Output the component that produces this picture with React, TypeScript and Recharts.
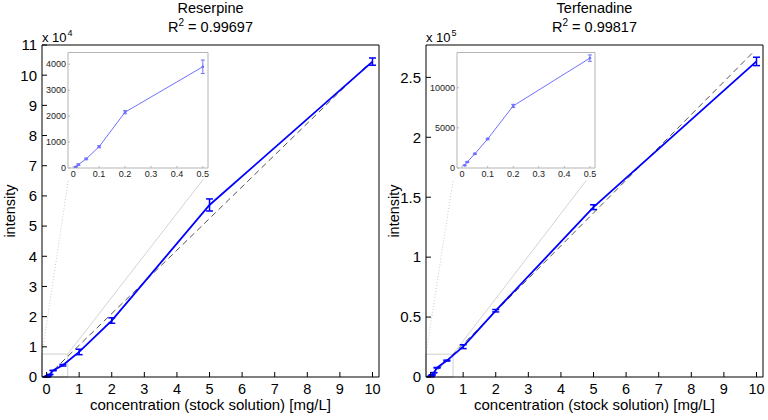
import React from 'react';
import { LineChart, Line, XAxis, YAxis, ErrorBar, ReferenceArea, ReferenceLine } from 'recharts';

// concentrations of the stock solution [mg/L]
const concentration = [0.01, 0.02, 0.05, 0.1, 0.2, 0.5, 1, 2, 5, 10];

// Reserpine
const reserpineIntensity = [40, 130, 350, 820, 2150, 3900, 8300, 18700, 57000, 104500];
const reserpineError = [20, 30, 30, 40, 60, 260, 900, 900, 2000, 1200];
const reserpineFitX = [0, 9.9];
const reserpineFitY = [0, 104000];

// Terfenadine
const terfenadineIntensity = [330, 740, 1770, 3620, 7740, 13700, 25300, 55300, 141700, 263300];
const terfenadineError = [40, 60, 80, 100, 200, 400, 1600, 1000, 2000, 3500];
const terfenadineFitX = [0, 9.9];
const terfenadineFitY = [0, 271000];

// ticks
const xTicks = [0, 1, 2, 3, 4, 5, 6, 7, 8, 9, 10];
const reserpineTicks = [0, 10000, 20000, 30000, 40000, 50000, 60000, 70000, 80000, 90000, 100000, 110000];
const terfenadineTicks = [0, 50000, 100000, 150000, 200000, 250000];
const insetXTicks = [0, 0.1, 0.2, 0.3, 0.4, 0.5];
const reserpineInsetTicks = [0, 1000, 2000, 3000, 4000];
const terfenadineInsetTicks = [0, 5000, 10000];

// zoom box and connector lines (data coords of each main panel)
const reserpineBox = [0.65, 7600];
const reserpineConnectors = [
  [-0.14, 7600, 0.67, 65400],
  [0.65, 7600, 4.8, 65400],
];
const terfenadineBox = [0.69, 19000];
const terfenadineConnectors = [
  [-0.14, 19000, 0.69, 164000],
  [0.69, 19000, 4.78, 164000],
];

const X_DOMAIN: [number, number] = [-0.14, 10.2];
const INSET_X_DOMAIN: [number, number] = [-0.02, 0.52];
const FONT = '"Liberation Sans", Arial, Helvetica, sans-serif';
const BLUE = '#0000ff';
const INSET_BLUE = '#7070ff';

const toPoints = (ys: number[], errs: number[]) =>
  concentration.map((x, i) => ({ x, y: ys[i], err: errs[i] }));
const toFit = (xs: number[], ys: number[]) => xs.map((x, i) => ({ x, y: ys[i] }));

const fmt = (scale: number) => (v: number) => String(+(v / scale).toFixed(2));

interface PanelProps {
  left: number;
  title: string;
  r2: string;
  exponent: number;
  scale: number;
  yMax: number;
  yTicks: number[];
  data: { x: number; y: number; err: number }[];
  fit: { x: number; y: number }[];
  box: number[];
  connectors: number[][];
  inset: { left: number; width: number; yWidth: number; yMax: number; ticks: number[] };
}

const Panel: React.FC<PanelProps> = ({ left, title, r2, exponent, scale, yMax, yTicks, data, fit, box, connectors, inset }) => {
  const insetData = data.filter(d => d.x <= 0.5);
  const txt: React.CSSProperties = { position: 'absolute', fontFamily: FONT, color: '#000', whiteSpace: 'nowrap' };
  return (
    <>
      <div style={{ position: 'absolute', left, top: 0 }}>
        <LineChart width={384} height={420} margin={{ top: 44, right: 4, bottom: 0, left: 0 }}>
          <XAxis type="number" dataKey="x" domain={X_DOMAIN} ticks={xTicks} allowDataOverflow interval={0}
            height={43} tickSize={-5} tickMargin={12} stroke="#000"
            tick={{ fill: '#000', fontSize: 14.5, fontFamily: FONT }} />
          {/* top / right axes close the box, ticks only */}
          <XAxis xAxisId="top" orientation="top" type="number" dataKey="x" domain={X_DOMAIN} ticks={xTicks}
            allowDataOverflow interval={0} height={1} tickSize={-5} tick={false} stroke="#000" />
          <YAxis type="number" domain={[0, yMax]} ticks={yTicks} allowDataOverflow interval={0}
            width={42} tickSize={-5} tickMargin={10} stroke="#000" tickFormatter={fmt(scale)}
            tick={{ fill: '#000', fontSize: 15, fontFamily: FONT }} />
          <YAxis yAxisId="right" orientation="right" type="number" domain={[0, yMax]} ticks={yTicks}
            allowDataOverflow interval={0} width={1} tickSize={-5} tick={false} stroke="#000" />
          <ReferenceArea x1={X_DOMAIN[0]} x2={box[0]} y1={0} y2={box[1]} fill="none" stroke="#c4c4c4"
            strokeWidth={0.8} ifOverflow="visible" />
          <ReferenceLine segment={[{ x: connectors[0][0], y: connectors[0][1] }, { x: connectors[0][2], y: connectors[0][3] }]}
            stroke="#bdbdbd" strokeWidth={0.8} strokeDasharray="1 2" ifOverflow="visible" />
          <ReferenceLine segment={[{ x: connectors[1][0], y: connectors[1][1] }, { x: connectors[1][2], y: connectors[1][3] }]}
            stroke="#c8c8c8" strokeWidth={0.8} ifOverflow="visible" />
          <Line xAxisId="top" yAxisId="right" data={fit} dataKey="y" stroke="none" dot={false}
            isAnimationActive={false} />
          <Line data={fit} dataKey="y" stroke="#555" strokeWidth={1} strokeDasharray="6 4" dot={false}
            isAnimationActive={false} />
          <Line data={data} dataKey="y" stroke={BLUE} strokeWidth={1.8} dot={false} isAnimationActive={false}>
            <ErrorBar dataKey="err" direction="y" width={3.5} stroke={BLUE} strokeWidth={1.5} isAnimationActive={false} />
          </Line>
        </LineChart>
      </div>

      {/* inset */}
      <div style={{ position: 'absolute', left: inset.left, top: 48 }}>
        <LineChart width={inset.width} height={135} margin={{ top: 3.5, right: 5, bottom: 0, left: 0 }}>
          <XAxis type="number" dataKey="x" domain={INSET_X_DOMAIN} ticks={insetXTicks} allowDataOverflow interval={0}
            height={15} tickSize={-2} tickMargin={5} stroke="#b4b4b4"
            tick={{ fill: '#222', fontSize: 9, fontFamily: FONT }} />
          <XAxis xAxisId="top" orientation="top" type="number" dataKey="x" domain={INSET_X_DOMAIN} ticks={insetXTicks}
            allowDataOverflow interval={0} height={1} tickSize={-2} tick={false} stroke="#b4b4b4" />
          <YAxis type="number" domain={[0, inset.yMax]} ticks={inset.ticks} allowDataOverflow interval={0}
            width={inset.yWidth} tickSize={-2} tickMargin={4} stroke="#b4b4b4"
            tick={{ fill: '#222', fontSize: 9, fontFamily: FONT }} />
          <YAxis yAxisId="right" orientation="right" type="number" domain={[0, inset.yMax]} ticks={inset.ticks}
            allowDataOverflow interval={0} width={1} tickSize={-2} tick={false} stroke="#b4b4b4" />
          <Line xAxisId="top" yAxisId="right" data={insetData} dataKey="y" stroke="none" dot={false}
            isAnimationActive={false} />
          <Line data={insetData} dataKey="y" stroke={INSET_BLUE} strokeWidth={1}
            dot={{ r: 1, fill: INSET_BLUE, stroke: INSET_BLUE }} isAnimationActive={false}>
            <ErrorBar dataKey="err" direction="y" width={2} stroke={INSET_BLUE} strokeWidth={1} isAnimationActive={false} />
          </Line>
        </LineChart>
      </div>

      {/* texts */}
      <div style={{ ...txt, left: left + 42, width: 337, top: 0, textAlign: 'center', fontSize: 14.5, lineHeight: '16px' }}>{title}</div>
      <div style={{ ...txt, left: left + 42, width: 337, top: 19, textAlign: 'center', fontSize: 14.5, lineHeight: '16px' }}>
        R<span style={{ fontSize: 10, position: 'relative', top: -6 }}>2</span> = {r2}
      </div>
      <div style={{ ...txt, left: left + 42, top: 30, fontSize: 13, lineHeight: '15px' }}>
        x 10<span style={{ fontSize: 9, position: 'relative', top: -6, marginLeft: 1 }}>{exponent}</span>
      </div>
      <div style={{ ...txt, left: left + 10, top: 211, fontSize: 14.5, lineHeight: '16px', transform: 'translate(-50%, -50%) rotate(-90deg)' }}>intensity</div>
      <div style={{ ...txt, left: left + 42, width: 337, top: 398, textAlign: 'center', fontSize: 15, lineHeight: '14px' }}>
        concentration (stock solution) [mg/L]
      </div>
    </>
  );
};

export default function App() {
  return (
    <div style={{ position: 'absolute', left: 0, top: 0, width: 768, height: 420, background: '#fff', overflow: 'hidden' }}>
      <Panel left={0} title="Reserpine" r2="0.99697" exponent={4} scale={10000} yMax={110000}
        yTicks={reserpineTicks} data={toPoints(reserpineIntensity, reserpineError)}
        fit={toFit(reserpineFitX, reserpineFitY)} box={reserpineBox} connectors={reserpineConnectors}
        inset={{ left: 36, width: 178, yWidth: 32, yMax: 4450, ticks: reserpineInsetTicks }} />
      <Panel left={384} title="Terfenadine" r2="0.99817" exponent={5} scale={100000} yMax={277000}
        yTicks={terfenadineTicks} data={toPoints(terfenadineIntensity, terfenadineError)}
        fit={toFit(terfenadineFitX, terfenadineFitY)} box={terfenadineBox} connectors={terfenadineConnectors}
        inset={{ left: 414, width: 187, yWidth: 43, yMax: 14400, ticks: terfenadineInsetTicks }} />
    </div>
  );
}
